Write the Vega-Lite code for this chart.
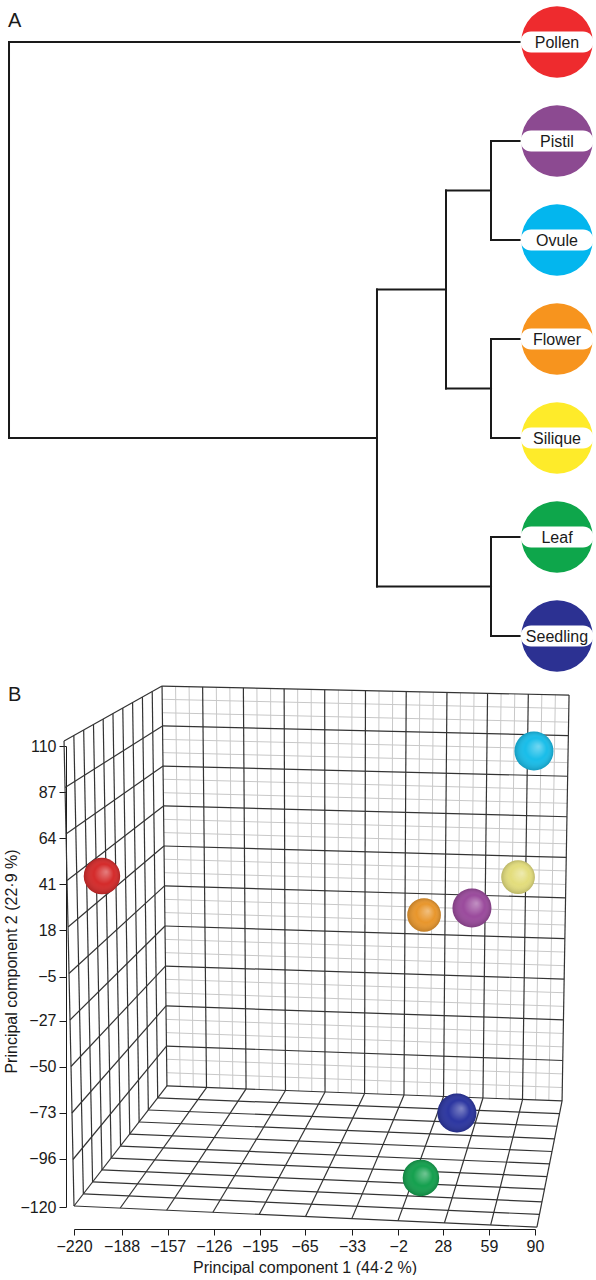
{
  "$schema": "https://vega.github.io/schema/vega-lite/v6.json",
  "padding": {"left": 3, "top": 6, "right": 0, "bottom": 0},
  "spacing": 12,
  "background": "white",
  "config": {
    "font": "Liberation Sans",
    "view": {"stroke": null},
    "axis": {"labelFont": "Liberation Sans", "titleFont": "Liberation Sans", "labelFontSize": 16, "titleFontSize": 16, "titleFontWeight": "normal", "labelColor": "#1a1a1a", "titleColor": "#1a1a1a", "domainColor": "#1a1a1a", "tickColor": "#1a1a1a", "grid": false, "labelOverlap": false, "labelFlush": false},
    "title": {"font": "Liberation Sans", "fontSize": 20, "fontWeight": "normal", "color": "#1a1a1a", "anchor": "start"}
  },
  "datasets": {
    "links": [
      {"node": "Pollen", "h1": 0, "h2": 1, "o1": 0, "o2": 0},
      {"node": "root", "h1": 1, "h2": 1, "o1": 0, "o2": 4},
      {"node": "non-pollen", "h1": 0.3285, "h2": 1, "o1": 4, "o2": 4},
      {"node": "non-pollen", "h1": 0.3285, "h2": 0.3285, "o1": 2.5, "o2": 5.5},
      {"node": "reproductive", "h1": 0.2026, "h2": 0.3285, "o1": 2.5, "o2": 2.5},
      {"node": "vegetative", "h1": 0.1204, "h2": 0.3285, "o1": 5.5, "o2": 5.5},
      {"node": "reproductive", "h1": 0.2026, "h2": 0.2026, "o1": 1.5, "o2": 3.5},
      {"node": "pistil-ovule", "h1": 0.1204, "h2": 0.2026, "o1": 1.5, "o2": 1.5},
      {"node": "flower-silique", "h1": 0.1204, "h2": 0.2026, "o1": 3.5, "o2": 3.5},
      {"node": "pistil-ovule", "h1": 0.1204, "h2": 0.1204, "o1": 1, "o2": 2},
      {"node": "flower-silique", "h1": 0.1204, "h2": 0.1204, "o1": 3, "o2": 4},
      {"node": "vegetative", "h1": 0.1204, "h2": 0.1204, "o1": 5, "o2": 6},
      {"node": "Pistil", "h1": 0, "h2": 0.1204, "o1": 1, "o2": 1},
      {"node": "Ovule", "h1": 0, "h2": 0.1204, "o1": 2, "o2": 2},
      {"node": "Flower", "h1": 0, "h2": 0.1204, "o1": 3, "o2": 3},
      {"node": "Silique", "h1": 0, "h2": 0.1204, "o1": 4, "o2": 4},
      {"node": "Leaf", "h1": 0, "h2": 0.1204, "o1": 5, "o2": 5},
      {"node": "Seedling", "h1": 0, "h2": 0.1204, "o1": 6, "o2": 6}
    ],
    "leaves": [
      {"tissue": "Pollen", "order": 0, "height": 0},
      {"tissue": "Pistil", "order": 1, "height": 0},
      {"tissue": "Ovule", "order": 2, "height": 0},
      {"tissue": "Flower", "order": 3, "height": 0},
      {"tissue": "Silique", "order": 4, "height": 0},
      {"tissue": "Leaf", "order": 5, "height": 0},
      {"tissue": "Seedling", "order": 6, "height": 0}
    ],
    "samples": [
      {"tissue": "Pollen", "pc1": -201.2, "pc2": 45.1, "pc3": 0},
      {"tissue": "Ovule", "pc1": 89.3, "pc2": 107.5, "pc3": 30},
      {"tissue": "Silique", "pc1": 78.6, "pc2": 44.6, "pc3": -30},
      {"tissue": "Pistil", "pc1": 47.6, "pc2": 29.2, "pc3": 30},
      {"tissue": "Flower", "pc1": 15.4, "pc2": 25.7, "pc3": -30},
      {"tissue": "Seedling", "pc1": 37.5, "pc2": -73.1, "pc3": 30},
      {"tissue": "Leaf", "pc1": 13.3, "pc2": -105.5, "pc3": 0}
    ],
    "wallMinor": [
      {"pc1a": -151.7, "pc2a": 139.8, "pc1b": -148.6, "pc2b": -59.9},
      {"pc1a": -142.6, "pc2a": 139.6, "pc1b": -139.8, "pc2b": -60.1},
      {"pc1a": -124.3, "pc2a": 139.3, "pc1b": -122.0, "pc2b": -60.6},
      {"pc1a": -115.2, "pc2a": 139.2, "pc1b": -113.2, "pc2b": -60.9},
      {"pc1a": -97.0, "pc2a": 138.9, "pc1b": -95.5, "pc2b": -61.4},
      {"pc1a": -87.8, "pc2a": 138.7, "pc1b": -86.6, "pc2b": -61.6},
      {"pc1a": -69.6, "pc2a": 138.4, "pc1b": -68.9, "pc2b": -62.1},
      {"pc1a": -60.5, "pc2a": 138.3, "pc1b": -60.1, "pc2b": -62.4},
      {"pc1a": -42.2, "pc2a": 138.0, "pc1b": -42.4, "pc2b": -62.9},
      {"pc1a": -33.1, "pc2a": 137.8, "pc1b": -33.5, "pc2b": -63.1},
      {"pc1a": -14.9, "pc2a": 137.5, "pc1b": -15.8, "pc2b": -63.6},
      {"pc1a": -5.7, "pc2a": 137.4, "pc1b": -6.9, "pc2b": -63.9},
      {"pc1a": 12.5, "pc2a": 137.1, "pc1b": 10.8, "pc2b": -64.4},
      {"pc1a": 21.6, "pc2a": 136.9, "pc1b": 19.6, "pc2b": -64.6},
      {"pc1a": 39.9, "pc2a": 136.6, "pc1b": 37.3, "pc2b": -65.1},
      {"pc1a": 49.0, "pc2a": 136.5, "pc1b": 46.2, "pc2b": -65.4},
      {"pc1a": 67.2, "pc2a": 136.2, "pc1b": 63.9, "pc2b": -65.9},
      {"pc1a": 76.4, "pc2a": 136.0, "pc1b": 72.7, "pc2b": -66.1},
      {"pc1a": 94.6, "pc2a": 135.7, "pc1b": 90.4, "pc2b": -66.6},
      {"pc1a": 103.7, "pc2a": 135.6, "pc1b": 99.3, "pc2b": -66.9},
      {"pc1a": -160.7, "pc2a": 133.3, "pc1b": 112.7, "pc2b": 128.7},
      {"pc1a": -160.6, "pc2a": 126.6, "pc1b": 112.5, "pc2b": 121.9},
      {"pc1a": -160.4, "pc2a": 113.3, "pc1b": 112.2, "pc2b": 108.4},
      {"pc1a": -160.3, "pc2a": 106.7, "pc1b": 112.1, "pc2b": 101.7},
      {"pc1a": -160.0, "pc2a": 93.4, "pc1b": 111.8, "pc2b": 88.2},
      {"pc1a": -159.9, "pc2a": 86.7, "pc1b": 111.6, "pc2b": 81.4},
      {"pc1a": -159.7, "pc2a": 73.4, "pc1b": 111.3, "pc2b": 67.9},
      {"pc1a": -159.6, "pc2a": 66.8, "pc1b": 111.1, "pc2b": 61.2},
      {"pc1a": -159.4, "pc2a": 53.5, "pc1b": 110.8, "pc2b": 47.7},
      {"pc1a": -159.3, "pc2a": 46.8, "pc1b": 110.7, "pc2b": 40.9},
      {"pc1a": -159.0, "pc2a": 33.5, "pc1b": 110.4, "pc2b": 27.4},
      {"pc1a": -158.9, "pc2a": 26.9, "pc1b": 110.2, "pc2b": 20.7},
      {"pc1a": -158.7, "pc2a": 13.5, "pc1b": 109.9, "pc2b": 7.2},
      {"pc1a": -158.6, "pc2a": 6.9, "pc1b": 109.7, "pc2b": 0.4},
      {"pc1a": -158.4, "pc2a": -6.4, "pc1b": 109.4, "pc2b": -13.1},
      {"pc1a": -158.2, "pc2a": -13.1, "pc1b": 109.3, "pc2b": -19.9},
      {"pc1a": -158.0, "pc2a": -26.4, "pc1b": 109.0, "pc2b": -33.4},
      {"pc1a": -157.9, "pc2a": -33.0, "pc1b": 108.8, "pc2b": -40.1},
      {"pc1a": -157.7, "pc2a": -46.3, "pc1b": 108.5, "pc2b": -53.6},
      {"pc1a": -157.6, "pc2a": -53.0, "pc1b": 108.3, "pc2b": -60.4}
    ],
    "wallMajor": [
      {"pc1a": -160.8, "pc2a": 139.9, "pc1b": -157.5, "pc2b": -59.6},
      {"pc1a": -133.5, "pc2a": 139.5, "pc1b": -130.9, "pc2b": -60.4},
      {"pc1a": -106.1, "pc2a": 139.0, "pc1b": -104.3, "pc2b": -61.1},
      {"pc1a": -78.7, "pc2a": 138.6, "pc1b": -77.8, "pc2b": -61.9},
      {"pc1a": -51.4, "pc2a": 138.1, "pc1b": -51.2, "pc2b": -62.6},
      {"pc1a": -24.0, "pc2a": 137.7, "pc1b": -24.6, "pc2b": -63.4},
      {"pc1a": 3.4, "pc2a": 137.2, "pc1b": 1.9, "pc2b": -64.1},
      {"pc1a": 30.8, "pc2a": 136.8, "pc1b": 28.5, "pc2b": -64.9},
      {"pc1a": 58.1, "pc2a": 136.3, "pc1b": 55.0, "pc2b": -65.6},
      {"pc1a": 85.5, "pc2a": 135.9, "pc1b": 81.6, "pc2b": -66.4},
      {"pc1a": 112.9, "pc2a": 135.4, "pc1b": 108.2, "pc2b": -67.1},
      {"pc1a": -160.8, "pc2a": 139.9, "pc1b": 112.9, "pc2b": 135.4},
      {"pc1a": -160.5, "pc2a": 120.0, "pc1b": 112.4, "pc2b": 115.2},
      {"pc1a": -160.1, "pc2a": 100.0, "pc1b": 111.9, "pc2b": 94.9},
      {"pc1a": -159.8, "pc2a": 80.1, "pc1b": 111.5, "pc2b": 74.7},
      {"pc1a": -159.5, "pc2a": 60.1, "pc1b": 111.0, "pc2b": 54.4},
      {"pc1a": -159.1, "pc2a": 40.2, "pc1b": 110.5, "pc2b": 34.2},
      {"pc1a": -158.8, "pc2a": 20.2, "pc1b": 110.0, "pc2b": 13.9},
      {"pc1a": -158.5, "pc2a": 0.2, "pc1b": 109.6, "pc2b": -6.3},
      {"pc1a": -158.1, "pc2a": -19.7, "pc1b": 109.1, "pc2b": -26.6},
      {"pc1a": -157.8, "pc2a": -39.7, "pc1b": 108.6, "pc2b": -46.9},
      {"pc1a": -157.5, "pc2a": -59.6, "pc1b": 108.2, "pc2b": -67.1},
      {"pc1a": -226.7, "pc2a": 112.5, "pc1b": -160.8, "pc2b": 139.9},
      {"pc1a": -226.0, "pc2a": 89.3, "pc1b": -160.5, "pc2b": 120.0},
      {"pc1a": -225.4, "pc2a": 66.1, "pc1b": -160.1, "pc2b": 100.0},
      {"pc1a": -224.7, "pc2a": 42.9, "pc1b": -159.8, "pc2b": 80.1},
      {"pc1a": -224.0, "pc2a": 19.7, "pc1b": -159.5, "pc2b": 60.1},
      {"pc1a": -223.4, "pc2a": -3.5, "pc1b": -159.1, "pc2b": 40.2},
      {"pc1a": -222.7, "pc2a": -26.7, "pc1b": -158.8, "pc2b": 20.2},
      {"pc1a": -222.0, "pc2a": -49.9, "pc1b": -158.5, "pc2b": 0.2},
      {"pc1a": -221.4, "pc2a": -73.1, "pc1b": -158.1, "pc2b": -19.7},
      {"pc1a": -220.7, "pc2a": -96.3, "pc1b": -157.8, "pc2b": -39.7},
      {"pc1a": -220.0, "pc2a": -119.5, "pc1b": -157.5, "pc2b": -59.6},
      {"pc1a": -226.7, "pc2a": 112.5, "pc1b": -220.0, "pc2b": -119.5},
      {"pc1a": -220.1, "pc2a": 115.2, "pc1b": -213.7, "pc2b": -113.5},
      {"pc1a": -213.5, "pc2a": 118.0, "pc1b": -207.5, "pc2b": -107.5},
      {"pc1a": -206.9, "pc2a": 120.7, "pc1b": -201.2, "pc2b": -101.5},
      {"pc1a": -200.4, "pc2a": 123.5, "pc1b": -195.0, "pc2b": -95.6},
      {"pc1a": -193.8, "pc2a": 126.2, "pc1b": -188.7, "pc2b": -89.6},
      {"pc1a": -187.2, "pc2a": 129.0, "pc1b": -182.5, "pc2b": -83.6},
      {"pc1a": -180.6, "pc2a": 131.7, "pc1b": -176.2, "pc2b": -77.6},
      {"pc1a": -174.0, "pc2a": 134.4, "pc1b": -170.0, "pc2b": -71.6},
      {"pc1a": -167.4, "pc2a": 137.2, "pc1b": -163.7, "pc2b": -65.6},
      {"pc1a": -188.9, "pc2a": -120.5, "pc1b": -130.9, "pc2b": -60.4},
      {"pc1a": -157.7, "pc2a": -121.6, "pc1b": -104.3, "pc2b": -61.1},
      {"pc1a": -126.6, "pc2a": -122.6, "pc1b": -77.8, "pc2b": -61.9},
      {"pc1a": -95.5, "pc2a": -123.7, "pc1b": -51.2, "pc2b": -62.6},
      {"pc1a": -64.3, "pc2a": -124.7, "pc1b": -24.6, "pc2b": -63.4},
      {"pc1a": -33.2, "pc2a": -125.8, "pc1b": 1.9, "pc2b": -64.1},
      {"pc1a": -2.1, "pc2a": -126.8, "pc1b": 28.5, "pc2b": -64.9},
      {"pc1a": 29.1, "pc2a": -127.9, "pc1b": 55.0, "pc2b": -65.6},
      {"pc1a": 60.2, "pc2a": -128.9, "pc1b": 81.6, "pc2b": -66.4},
      {"pc1a": 91.3, "pc2a": -130.0, "pc1b": 108.2, "pc2b": -67.1},
      {"pc1a": -220.0, "pc2a": -119.5, "pc1b": 91.3, "pc2b": -130.0},
      {"pc1a": -213.7, "pc2a": -113.5, "pc1b": 93.0, "pc2b": -123.7},
      {"pc1a": -207.5, "pc2a": -107.5, "pc1b": 94.7, "pc2b": -117.4},
      {"pc1a": -201.2, "pc2a": -101.5, "pc1b": 96.4, "pc2b": -111.1},
      {"pc1a": -195.0, "pc2a": -95.6, "pc1b": 98.1, "pc2b": -104.8},
      {"pc1a": -188.7, "pc2a": -89.6, "pc1b": 99.8, "pc2b": -98.5},
      {"pc1a": -182.5, "pc2a": -83.6, "pc1b": 101.4, "pc2b": -92.3},
      {"pc1a": -176.2, "pc2a": -77.6, "pc1b": 103.1, "pc2b": -86.0},
      {"pc1a": -170.0, "pc2a": -71.6, "pc1b": 104.8, "pc2b": -79.7},
      {"pc1a": -163.7, "pc2a": -65.6, "pc1b": 106.5, "pc2b": -73.4}
    ]
  },
  "vconcat": [
    {
      "width": 483,
      "height": 594,
      "title": {"text": "A", "frame": "group", "anchor": "start", "offset": -41, "baseline": "alphabetic", "dx": -66},
      "layer": [
        {
          "data": {"name": "links"},
          "mark": {"type": "rule", "color": "#1a1a1a", "strokeWidth": 2, "strokeCap": "square"},
          "encoding": {
            "x": {"field": "h1", "type": "quantitative", "scale": {"domain": [0, 0.8814], "reverse": true, "nice": false, "zero": false}, "axis": null},
            "x2": {"field": "h2"},
            "y": {"field": "o1", "type": "quantitative", "scale": {"domain": [0, 6], "reverse": true, "nice": false, "zero": false}, "axis": null},
            "y2": {"field": "o2"}
          }
        },
        {
          "data": {"name": "leaves"},
          "mark": {"type": "circle", "opacity": 1, "size": 5100},
          "encoding": {
            "x": {"field": "height", "type": "quantitative"},
            "y": {"field": "order", "type": "quantitative"},
            "color": {"field": "tissue", "type": "nominal", "legend": null,
              "scale": {"domain": ["Pollen", "Pistil", "Ovule", "Flower", "Silique", "Leaf", "Seedling"],
                        "range": ["#ee2b2e", "#8c4a91", "#03b6ee", "#f7941e", "#feeb2a", "#0ea64b", "#2c3192"]}}
          }
        },
        {
          "data": {"name": "leaves"},
          "mark": {"type": "point", "shape": "M-0.712,-0.288L0.712,-0.288A0.288,0.288 0 0 1 0.712,0.288L-0.712,0.288A0.288,0.288 0 0 1 -0.712,-0.288Z", "filled": true, "fill": "white", "opacity": 1, "strokeWidth": 0, "size": 5329},
          "encoding": {
            "x": {"field": "height", "type": "quantitative"},
            "y": {"field": "order", "type": "quantitative"}
          }
        },
        {
          "data": {"name": "leaves"},
          "mark": {"type": "text", "fontSize": 16, "color": "#1a1a1a", "align": "center", "baseline": "middle", "dy": 1},
          "encoding": {
            "x": {"field": "height", "type": "quantitative"},
            "y": {"field": "order", "type": "quantitative"},
            "text": {"field": "tissue"}
          }
        }
      ]
    },
    {
      "width": 461,
      "height": 461,
      "title": {"text": "B", "frame": "group", "anchor": "start", "offset": -35.5, "baseline": "alphabetic", "dx": -66},
      "resolve": {"scale": {"color": "independent"}},
      "layer": [
        {
          "data": {"name": "wallMinor"},
          "mark": {"type": "rule", "color": "#c8c8c8", "strokeWidth": 1},
          "encoding": {
            "x": {"field": "pc1a", "type": "quantitative", "scale": {"domain": [-220, 90], "nice": false, "zero": false},
              "axis": {"title": "Principal component 1 (44·2 %)", "values": [-220, -188, -157, -126, -95, -65, -33, -2, 28, 59, 90],
                       "labelExpr": "datum.value == -95 ? '\u2212195' : datum.label", "offset": 22, "tickSize": 6, "labelPadding": 3, "titlePadding": 5}},
            "x2": {"field": "pc1b"},
            "y": {"field": "pc2a", "type": "quantitative", "scale": {"domain": [-120, 110], "nice": false, "zero": false},
              "axis": {"title": "Principal component 2 (22·9 %)", "values": [110, 87, 64, 41, 18, -5, -27, -50, -73, -96, -120],
                       "offset": 8, "tickSize": 7, "labelPadding": 3, "titlePadding": 0, "titleY": 215}},
            "y2": {"field": "pc2b"}
          }
        },
        {
          "data": {"name": "wallMajor"},
          "mark": {"type": "rule", "color": "#333333", "strokeWidth": 1.2},
          "encoding": {
            "x": {"field": "pc1a", "type": "quantitative", "axis": {"title": "Principal component 1 (44·2 %)"}},
            "x2": {"field": "pc1b"},
            "y": {"field": "pc2a", "type": "quantitative", "axis": {"title": "Principal component 2 (22·9 %)"}},
            "y2": {"field": "pc2b"}
          }
        },
        {
          "data": {"name": "samples"},
          "mark": {"type": "circle", "opacity": 1},
          "encoding": {
            "x": {"field": "pc1", "type": "quantitative", "axis": {"title": "Principal component 1 (44·2 %)"}},
            "y": {"field": "pc2", "type": "quantitative", "axis": {"title": "Principal component 2 (22·9 %)"}},
            "size": {"field": "pc3", "type": "quantitative", "scale": {"domain": [-30, 30], "range": [1134, 1521]}, "legend": null},
            "color": {"field": "tissue", "type": "nominal", "legend": null,
              "scale": {"domain": ["Pollen", "Pistil", "Ovule", "Flower", "Silique", "Leaf", "Seedling"],
                        "range": ["#d42a2a", "#9a4a9c", "#18bde9", "#e8962c", "#e3dd7c", "#14a04e", "#2b35a0"]}}
          }
        },
        {
          "data": {"name": "samples"},
          "mark": {"type": "circle", "opacity": 1,
            "fill": {"gradient": "radial", "x1": 0.62, "y1": 0.38, "r1": 0, "x2": 0.5, "y2": 0.5, "r2": 0.5,
                     "stops": [{"offset": 0, "color": "rgba(255,255,255,0.4)"}, {"offset": 0.55, "color": "rgba(255,255,255,0)"}, {"offset": 1, "color": "rgba(0,0,0,0.18)"}]}},
          "encoding": {
            "x": {"field": "pc1", "type": "quantitative", "axis": {"title": "Principal component 1 (44·2 %)"}},
            "y": {"field": "pc2", "type": "quantitative", "axis": {"title": "Principal component 2 (22·9 %)"}},
            "size": {"field": "pc3", "type": "quantitative", "legend": null}
          }
        }
      ]
    }
  ]
}
